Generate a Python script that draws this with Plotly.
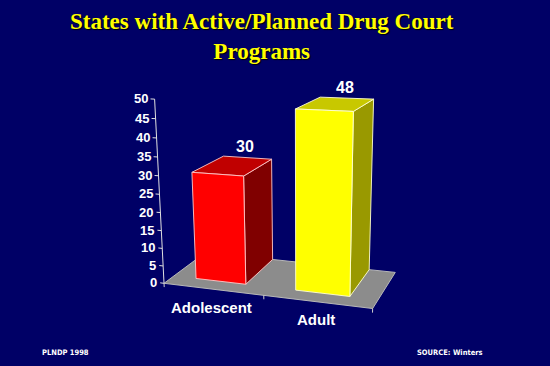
import numpy as np
import plotly.graph_objects as go

categories = ["Adolescent", "Adult"]
values = [30, 48]
y_tick_values = [0, 5, 10, 15, 20, 25, 30, 35, 40, 45, 50]
y_tick_labels = [str(v) for v in y_tick_values]
title_text = "States with Active/Planned Drug Court<br>Programs"
footer_left = "PLNDP 1998"
footer_right = "SOURCE: Winters"

Y_MAX = y_tick_values[-1]

# Perspective camera (3x4 projective matrix) mapping world (c, d, h/Y_MAX, 1) to screen units.
CAMERA = np.array([
    [177.449, 64.1108, -19.4486, 164.02],
    [-0.587519, -3.19689, -190.624, 283.304],
    [-0.083626, 0.109721, -0.06485, 1.0],
])
BAR_WIDTH = 0.255     # in floor-width units
BAR_OFFSET = -0.006   # shift of bars within their slots
BAR_FRONT = 0.222     # depth of bar front faces (floor depth = 1)
N = len(categories)
bar_c0 = [(i + 0.5) / N + BAR_OFFSET - BAR_WIDTH / 2 for i in range(N)]
bar_c1 = [(i + 0.5) / N + BAR_OFFSET + BAR_WIDTH / 2 for i in range(N)]


def proj(c, d, v):
    q = CAMERA @ np.array([c, d, v / Y_MAX, 1.0])
    return q[0] / q[2], q[1] / q[2]


fig = go.Figure()


def face(pts, color, edge, width=1):
    xy = [proj(*p) for p in pts]
    xs = [p[0] for p in xy] + [xy[0][0]]
    ys = [p[1] for p in xy] + [xy[0][1]]
    fig.add_trace(go.Scatter(x=xs, y=ys, mode="lines", fill="toself", fillcolor=color,
                             line=dict(color=edge, width=width), hoverinfo="skip", showlegend=False))


def seg(p, q, color="#ffffff", width=1):
    a, b = proj(*p), proj(*q)
    fig.add_trace(go.Scatter(x=[a[0], b[0]], y=[a[1], b[1]], mode="lines",
                             line=dict(color=color, width=width), hoverinfo="skip", showlegend=False))


# floor
face([(0, 0, 0), (1, 0, 0), (1, 1, 0), (0, 1, 0)], "#8c8c8c", "#b8b8b8")
# category ticks
for k in range(N + 1):
    seg((k / N, 0, 0), (k / N, 0, -Y_MAX * 0.022), "#d0d0d0")
# value axis
seg((0, 0, 0), (0, 0, Y_MAX), "#e0e0e0")
for v in y_tick_values:
    seg((0, 0, v), (-0.02, 0, v), "#e0e0e0")

bar_styles = [("#ff0000", "#c00000", "#800000", "rgba(255,200,200,0.9)"),
              ("#ffff00", "#c8c800", "#999900", "rgba(255,255,210,0.9)")]
for i, val in enumerate(values):
    c0, c1 = bar_c0[i], bar_c1[i]
    front, top, side, edge = bar_styles[i]
    face([(c1, BAR_FRONT, 0), (c1, 1, 0), (c1, 1, val), (c1, BAR_FRONT, val)], side, edge)
    face([(c0, BAR_FRONT, val), (c1, BAR_FRONT, val), (c1, 1, val), (c0, 1, val)], top, edge)
    face([(c0, BAR_FRONT, 0), (c1, BAR_FRONT, 0), (c1, BAR_FRONT, val), (c0, BAR_FRONT, val)], front, edge)

annotations = []
label_font = dict(family="Liberation Sans, Arial, sans-serif", color="#ffffff", weight="bold")
for v, lab in zip(y_tick_values, y_tick_labels):
    x, y = proj(-0.02, 0, v)
    annotations.append(dict(x=x, y=y, text=lab, showarrow=False, xanchor="right", yanchor="middle",
                            xshift=-1, font=dict(size=13, **label_font)))
for i, (cat, val) in enumerate(zip(categories, values)):
    cm = (bar_c0[i] + bar_c1[i]) / 2
    x, y = proj(cm, 1, val)
    annotations.append(dict(x=x, y=y, text=str(val), showarrow=False, xanchor="center", yanchor="middle",
                            xshift=-2, yshift=11, font=dict(size=16, **label_font)))
    x, y = proj(cm, 0, 0)
    annotations.append(dict(x=x, y=y, text=cat, showarrow=False, xanchor="center", yanchor="middle",
                            yshift=-18, font=dict(size=15, **label_font)))

annotations.append(dict(x=262, y=36, text=title_text, showarrow=False, xanchor="center", yanchor="middle",
                        font=dict(family="Liberation Serif, Times New Roman, serif", size=23, color="#ffff00",
                                  weight="bold", shadow="1px 1px 1px #000000")))
foot_font = dict(family="Liberation Sans Narrow, DejaVu Sans Condensed, Arial Narrow, sans-serif", size=7.5,
                 color="#ffffff", weight="bold")
annotations.append(dict(x=40, y=352, text=footer_left, showarrow=False, xanchor="left", yanchor="middle", font=foot_font))
annotations.append(dict(x=485, y=352, text=footer_right, showarrow=False, xanchor="right", yanchor="middle", font=foot_font))

fig.update_layout(
    width=550, height=366, margin=dict(l=0, r=0, t=0, b=0),
    paper_bgcolor="#000066", plot_bgcolor="#000066",
    xaxis=dict(range=[0, 550], visible=False, fixedrange=True),
    yaxis=dict(range=[366, 0], visible=False, fixedrange=True),
    annotations=annotations, showlegend=False,
)
fig.write_html("out.html", config={"displayModeBar": False},
               post_script="document.body.style.margin='0';document.body.style.background='#000066';")
